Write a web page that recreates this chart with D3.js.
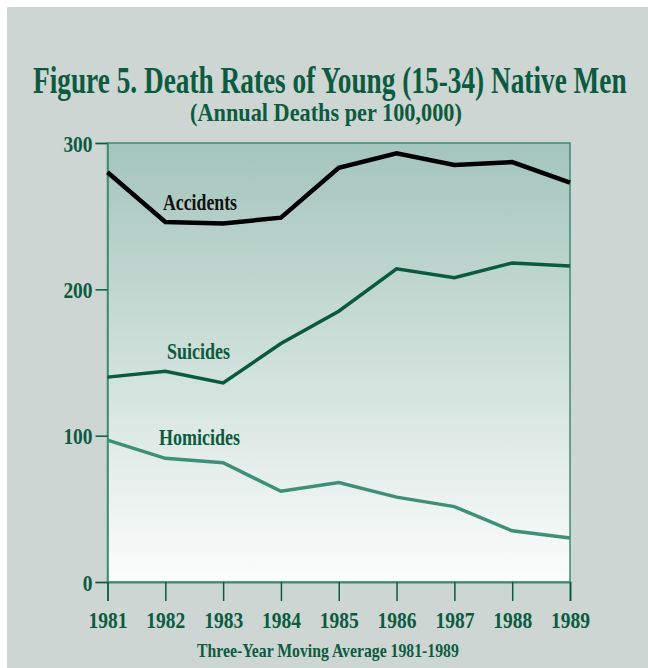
<!DOCTYPE html>
<html>
<head>
<meta charset="utf-8">
<script src="https://cdn.jsdelivr.net/npm/d3@7"></script>
<style>
  html, body { margin: 0; padding: 0; background: #ffffff; }
  svg { display: block; }
  text { font-family: "Liberation Serif", "Times New Roman", serif; font-weight: bold; }
</style>
</head>
<body>
<svg id="chart" width="648" height="668"></svg>
<script>
const years = [1981, 1982, 1983, 1984, 1985, 1986, 1987, 1988, 1989];
const accidents = [280, 246, 245, 249, 283, 293, 285, 287, 273];
const suicides  = [140, 144, 136, 163, 185, 214, 208, 218, 216];
const homicides = [97, 84.5, 81.5, 62, 68, 58, 51.5, 35, 30];
const yTicks = [0, 100, 200, 300];
const seriesNames = ["Accidents", "Suicides", "Homicides"];
const titleText = "Figure 5. Death Rates of Young (15-34) Native Men";
const subtitleText = "(Annual Deaths per 100,000)";
const xAxisTitle = "Three-Year Moving Average 1981-1989";

const svg = d3.select("#chart");
const W = 648, H = 668;
const dark = "#0c5b40";
const axisCol = "#3f8a72";

svg.append("rect").attr("x", 7).attr("y", 7).attr("width", W - 7).attr("height", H - 7).attr("fill", "#cdd6d3");

const x = d3.scaleLinear().domain([1981, 1989]).range([107.5, 570]);
const y = d3.scaleLinear().domain([0, 300]).range([582, 143]);

const defs = svg.append("defs");
const grad = defs.append("linearGradient").attr("id", "bg").attr("x1", 0).attr("y1", 0).attr("x2", 0).attr("y2", 1);
grad.append("stop").attr("offset", "0%").attr("stop-color", "#a4c5bc");
grad.append("stop").attr("offset", "50%").attr("stop-color", "#cfe0da");
grad.append("stop").attr("offset", "100%").attr("stop-color", "#fcfdfd");

svg.append("rect")
  .attr("x", x(1981)).attr("y", y(300))
  .attr("width", x(1989) - x(1981)).attr("height", y(0) - y(300))
  .attr("fill", "url(#bg)")
  .attr("stroke", axisCol).attr("stroke-width", 1.5);

// Y axis
const yAxis = d3.axisLeft(y).tickValues(yTicks).tickSize(12).tickPadding(3).tickFormat(d3.format("d"));
const gy = svg.append("g").attr("transform", `translate(${x(1981)},0)`).call(yAxis);
gy.select(".domain").attr("stroke", axisCol).attr("stroke-width", 1.5);
gy.selectAll(".tick line").attr("stroke", dark).attr("stroke-width", 1.5);
gy.selectAll(".tick text")
  .attr("fill", dark).attr("font-size", 24)
  .attr("dy", "0.34em")
  .attr("font-family", "Liberation Serif").attr("font-weight", "bold")
  .each(function() {
    const t = d3.select(this);
    const n = t.text().length;
    t.attr("textLength", n * 9.7).attr("lengthAdjust", "spacingAndGlyphs");
  });

// X axis
const xAxis = d3.axisBottom(x).tickValues(years).tickSize(19).tickPadding(10).tickFormat(d3.format("d"));
const gx = svg.append("g").attr("transform", `translate(0,${y(0)})`).call(xAxis);
gx.select(".domain").attr("stroke", axisCol).attr("stroke-width", 2);
gx.selectAll(".tick line").attr("stroke", dark).attr("stroke-width", 1.5);
gx.selectAll(".tick text")
  .attr("fill", dark).attr("font-size", 24)
  .attr("font-family", "Liberation Serif").attr("font-weight", "bold")
  .attr("textLength", 39).attr("lengthAdjust", "spacingAndGlyphs");

// Lines
const line = d3.line().x((d, i) => x(years[i])).y(d => y(d));
const seriesData = [
  { name: seriesNames[0], values: accidents, color: "#000000", width: 4.5, lx: 163, ly: 210, lw: 74, lc: "#111111" },
  { name: seriesNames[1], values: suicides, color: "#0a5a3e", width: 3.5, lx: 167, ly: 359, lw: 63, lc: "#0c5b40" },
  { name: seriesNames[2], values: homicides, color: "#3e8f77", width: 3.5, lx: 159, ly: 445, lw: 81, lc: "#0c5b40" }
];
seriesData.forEach(s => {
  svg.append("path").datum(s.values)
    .attr("d", line).attr("fill", "none")
    .attr("stroke", s.color).attr("stroke-width", s.width)
    .attr("stroke-linejoin", "miter");
  svg.append("text").attr("x", s.lx).attr("y", s.ly)
    .attr("font-size", 24).attr("fill", s.lc)
    .attr("textLength", s.lw).attr("lengthAdjust", "spacingAndGlyphs")
    .text(s.name);
});

// Titles (horizontally condensed with a scale transform to fit the target width)
function condensed(txt, x0, yb, size, width) {
  const g = svg.append("g");
  const t = g.append("text").attr("x", 0).attr("y", 0)
    .attr("font-size", size).attr("fill", dark).text(txt);
  const natural = t.node().getComputedTextLength();
  g.attr("transform", `translate(${x0},${yb}) scale(${width / natural},1)`);
}
condensed(titleText, 33, 93, 37, 594);
condensed(subtitleText, 190, 121, 25, 272);
condensed(xAxisTitle, 197, 657, 19, 262);
</script>
</body>
</html>
